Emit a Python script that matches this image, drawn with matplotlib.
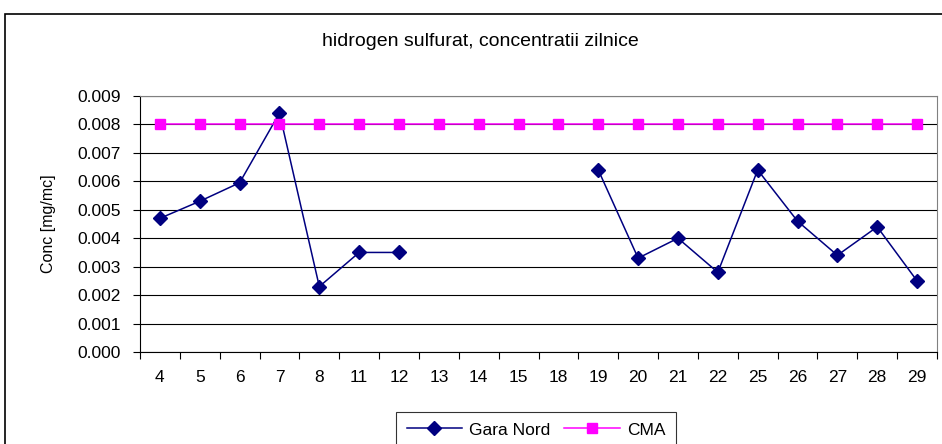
import matplotlib.pyplot as plt
from matplotlib.patches import Rectangle
from matplotlib.ticker import FixedLocator, NullFormatter
import numpy as np

plt.rcParams['font.family'] = ['Liberation Sans', 'DejaVu Sans']

days = ['4', '5', '6', '7', '8', '11', '12', '13', '14', '15',
        '18', '19', '20', '21', '22', '25', '26', '27', '28', '29']
gara_nord = [0.0047, 0.0053, 0.00595, 0.0084, 0.0023, 0.0035, 0.0035,
             None, None, None, None, 0.0064, 0.0033, 0.0040, 0.0028,
             0.0064, 0.0046, 0.0034, 0.0044, 0.0025]
cma = [0.008] * len(days)

x = np.arange(len(days))
gn = np.array([np.nan if v is None else v for v in gara_nord])

fig = plt.figure(figsize=(9.42, 4.44), dpi=100)
ax = fig.add_axes([140 / 942, 1 - 352 / 444, (937 - 140) / 942, (352 - 96) / 444])

ax.plot(x, gn, color='#000080', marker='D', markersize=7, linewidth=1.1,
        label='Gara Nord')
ax.plot(x, cma, color='#FF00FF', marker='s', markersize=7, linewidth=1.1,
        label='CMA')

ax.set_xlim(-0.5, len(days) - 0.5)
ax.set_ylim(0, 0.009)
ax.set_yticks(np.arange(0, 0.0091, 0.001))
ax.set_yticklabels(['%.3f' % v for v in np.arange(0, 0.0091, 0.001)])
ax.yaxis.grid(True, color='black', linewidth=0.8)
ax.set_axisbelow(True)

ax.xaxis.set_major_locator(FixedLocator(np.arange(-0.5, len(days), 1.0)))
ax.xaxis.set_major_formatter(NullFormatter())
ax.xaxis.set_minor_locator(FixedLocator(x))
ax.set_xticklabels(days, minor=True)
ax.tick_params(axis='x', which='major', direction='out', length=5, width=0.8)
ax.tick_params(axis='x', which='minor', length=0, pad=13, labelsize=12.5)
ax.tick_params(axis='y', direction='out', length=5, width=0.8, labelsize=12.5, pad=9)

for s in ['top', 'right']:
    ax.spines[s].set_color('#808080')
for s in ['left', 'bottom']:
    ax.spines[s].set_color('black')

ax.set_ylabel('Conc [mg/mc]', fontsize=11.5, labelpad=15)

fig.text(480 / 942, 1 - 42 / 444, 'hidrogen sulfurat, concentratii zilnice',
         ha='center', va='center', fontsize=14)

fig.patches.append(Rectangle((5 / 942, -0.2), 1.2, 1.2 - 14 / 444,
                             transform=fig.transFigure, fill=False,
                             edgecolor='black', linewidth=1.2))

leg = fig.legend(loc='upper center', bbox_to_anchor=(536 / 942, 1 - 412 / 444),
                 ncol=2, fontsize=12.5, frameon=True, fancybox=False,
                 edgecolor='black', borderpad=0.6, handlelength=3.2,
                 columnspacing=0.8, handletextpad=0.4, borderaxespad=0)
leg.get_frame().set_linewidth(0.8)

fig.savefig('out.png', dpi=100)
